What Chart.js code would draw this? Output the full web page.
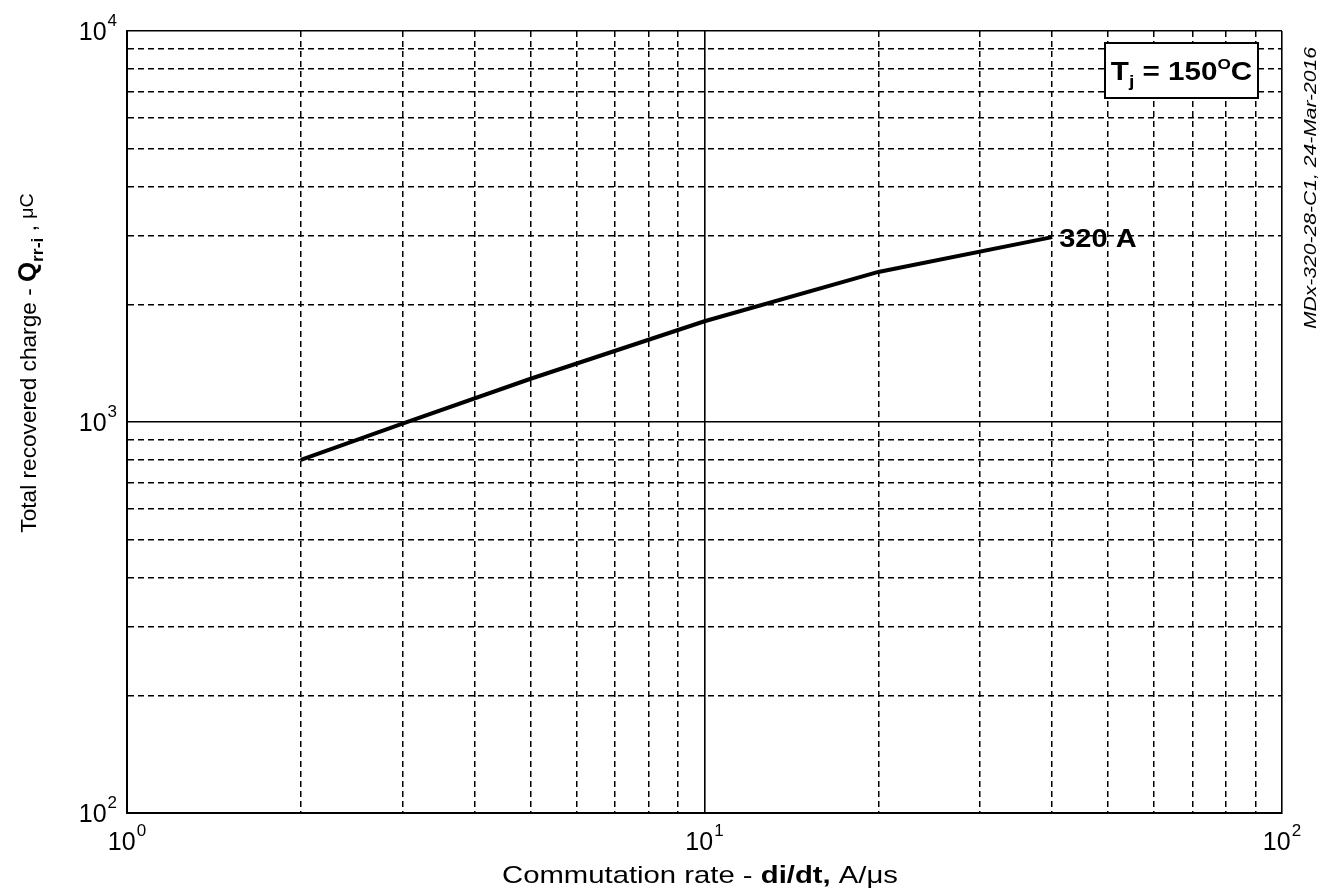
<!DOCTYPE html>
<html>
<head>
<meta charset="utf-8">
<script src="https://cdn.jsdelivr.net/npm/chart.js@4.4.0/dist/chart.umd.min.js"></script>
<style>
  html, body { margin: 0; padding: 0; background: #fff; }
  #wrap { width: 1325px; height: 892px; position: relative; }
</style>
</head>
<body>
<div id="wrap"><canvas id="myChart"></canvas></div>
<script>
// values (log-log)
const diDt = [2, 3, 5, 10, 20, 40];            // A/us
const qrr320 = [800, 990, 1290, 1810, 2420, 2970]; // uC, 320 A
const curveLabel = '320 A';

const xGridValues = [1, 2, 3, 4, 5, 6, 7, 8, 9, 10, 20, 30, 40, 50, 60, 70, 80, 90, 100];
const yGridValues = [100, 200, 300, 400, 500, 600, 700, 800, 900, 1000,
                     2000, 3000, 4000, 5000, 6000, 7000, 8000, 9000, 10000];
const xTickExps = [0, 1, 2];
const yTickExps = [2, 3, 4];

const FONT = '"Liberation Sans", Arial, sans-serif';

function isDecade(v) {
    const l = Math.log10(v);
    return Math.abs(l - Math.round(l)) < 1e-9;
}

function gridOpts() {
    return {
        drawTicks: false,
        color: '#000',
        lineWidth: function(ctx) {
            if (!ctx.tick) return 1;
            return isDecade(ctx.tick.value) ? 1.6 : 1.5;
        }
    };
}

function borderOpts() {
    return {
        color: '#000',
        width: 2,
        dash: function(ctx) {
            if (ctx.tick && !isDecade(ctx.tick.value)) return [6, 4];
            return [];
        }
    };
}

// draws "10" with a raised exponent
function drawPower(ctx, exp, x, y, align) {
    ctx.save();
    ctx.fillStyle = '#000';
    ctx.textBaseline = 'alphabetic';
    ctx.font = '25px ' + FONT;
    const wBase = ctx.measureText('10').width;
    ctx.font = '17px ' + FONT;
    const wExp = ctx.measureText(String(exp)).width;
    const total = wBase + wExp + 1;
    let left = x;
    if (align === 'center') left = x - total / 2;
    if (align === 'right') left = x - total;
    ctx.font = '25px ' + FONT;
    ctx.textAlign = 'left';
    ctx.fillText('10', left, y);
    ctx.font = '17px ' + FONT;
    ctx.fillText(String(exp), left + wBase + 1, y - 14);
    ctx.restore();
}

// draws a sequence of [text, font, dy] pieces, stretched horizontally by sx
function drawRuns(ctx, runs, x, y, align, sx) {
    sx = sx || 1;
    let total = 0;
    runs.forEach(function(r) { ctx.font = r[1]; total += ctx.measureText(r[0]).width; });
    ctx.save();
    ctx.translate(x, y);
    ctx.scale(sx, 1);
    let cx = align === 'center' ? -total / 2 : 0;
    runs.forEach(function(r) {
        ctx.font = r[1];
        ctx.fillText(r[0], cx, r[2] || 0);
        cx += ctx.measureText(r[0]).width;
    });
    ctx.restore();
    return total * sx;
}

const decorPlugin = {
    id: 'decor',
    afterDraw: function(chart) {
        const ctx = chart.ctx;
        const xs = chart.scales.x;
        const ys = chart.scales.y;
        const area = chart.chartArea;

        // tick labels
        xTickExps.forEach(function(e) {
            drawPower(ctx, e, xs.getPixelForValue(Math.pow(10, e)), area.bottom + 37, 'center');
        });
        yTickExps.forEach(function(e) {
            drawPower(ctx, e, area.left - 10, ys.getPixelForValue(Math.pow(10, e)) + 9, 'right');
        });

        ctx.save();
        ctx.fillStyle = '#000';
        ctx.textBaseline = 'alphabetic';
        ctx.textAlign = 'left';

        // x axis title
        drawRuns(ctx, [
            ['Commutation rate - ', '24px ' + FONT],
            ['di/dt,', 'bold 24px ' + FONT],
            [' A/\u03bcs', '24px ' + FONT]
        ], 700, 883, 'center', 1.22);

        // y axis title (rotated)
        ctx.save();
        ctx.translate(36, 363);
        ctx.rotate(-Math.PI / 2);
        drawRuns(ctx, [
            ['Total recovered charge - ', '22px ' + FONT],
            ['Q', 'bold 25px ' + FONT],
            ['rr-i', 'bold 17px ' + FONT, 7],
            [' , ', '22px ' + FONT],
            ['\u03bcC', '19px ' + FONT, -3]
        ], 0, 0, 'center', 1.03);
        ctx.restore();

        // document id on the right
        ctx.save();
        ctx.translate(1316, 188);
        ctx.rotate(-Math.PI / 2);
        drawRuns(ctx, [['MDx-320-28-C1, 24-Mar-2016', 'italic 17px ' + FONT]], 0, 0, 'center', 1.24);
        ctx.restore();

        // curve label next to last point
        const last = diDt.length - 1;
        const lx = xs.getPixelForValue(diDt[last]);
        const ly = ys.getPixelForValue(qrr320[last]);
        drawRuns(ctx, [[curveLabel, 'bold 25px ' + FONT]], lx + 7, ly + 10, 'left', 1.16);

        // junction temperature box
        const bx = 1105, by = 43, bw = 153, bh = 55;
        ctx.fillStyle = '#fff';
        ctx.fillRect(bx, by, bw, bh);
        ctx.strokeStyle = '#000';
        ctx.lineWidth = 2;
        ctx.strokeRect(bx, by, bw, bh);
        ctx.fillStyle = '#000';
        drawRuns(ctx, [
            ['T', 'bold 26px ' + FONT],
            ['j', 'bold 17px ' + FONT, 7],
            [' = 150', 'bold 26px ' + FONT],
            ['O', 'bold 15px ' + FONT, -11],
            ['C', 'bold 26px ' + FONT]
        ], bx + bw / 2, by + 37, 'center', 1.14);
        ctx.restore();
    }
};

new Chart(document.getElementById('myChart').getContext('2d'), {
    type: 'line',
    data: {
        datasets: [{
            label: curveLabel,
            data: diDt.map(function(v, i) { return { x: v, y: qrr320[i] }; }),
            borderColor: '#000',
            borderWidth: 4,
            pointRadius: 0,
            tension: 0,
            fill: false
        }]
    },
    options: {
        responsive: true,
        maintainAspectRatio: false,
        animation: false,
        layout: { padding: { left: 127, top: 31, right: 43, bottom: 79 } },
        plugins: { legend: { display: false }, tooltip: { enabled: false } },
        scales: {
            x: {
                type: 'logarithmic',
                min: 1,
                max: 100,
                afterBuildTicks: function(scale) {
                    scale.ticks = xGridValues.map(function(v) { return { value: v }; });
                },
                ticks: { display: false },
                grid: gridOpts(),
                border: borderOpts()
            },
            y: {
                type: 'logarithmic',
                min: 100,
                max: 10000,
                afterBuildTicks: function(scale) {
                    scale.ticks = yGridValues.map(function(v) { return { value: v }; });
                },
                ticks: { display: false },
                grid: gridOpts(),
                border: borderOpts()
            }
        }
    },
    plugins: [decorPlugin]
});
</script>
</body>
</html>
